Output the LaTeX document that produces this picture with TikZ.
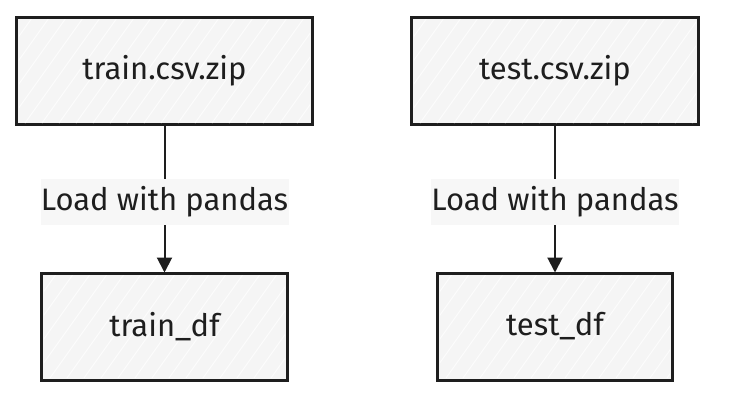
\documentclass[tikz,border=0pt]{standalone}
\usepackage{fontspec}
\setmainfont{Fira Sans}
\usetikzlibrary{arrows.meta}
\definecolor{ink}{HTML}{1E1E1E}
\definecolor{boxfill}{HTML}{F5F5F5}
\definecolor{hatch}{HTML}{FCFCFC}
\definecolor{labelbg}{HTML}{F7F7F7}
\tikzset{
  sketchbox/.style={draw=ink, line width=2pt, fill=boxfill, minimum width=#1,
    minimum height=106pt, inner sep=0pt},
  boxtext/.style={font=\fontsize{31}{34}\selectfont, text=ink},
  flow/.style={draw=ink, line width=2pt, -{Triangle[width=15pt,length=15pt]}},
  edgelabel/.style={fill=labelbg, inner sep=0pt, minimum width=248pt,
    minimum height=46pt, font=\fontsize{31}{34}\selectfont, text=ink}
}
% light diagonal hachure strokes clipped to a rectangle
\newcommand{\hachure}[4]{%
  \begin{scope}
    \clip (#1,#2) rectangle (#3,#4);
    \foreach \k in {-300,-283,...,320}
      \draw[hatch, line width=1pt] (#1+\k,#4) -- ++(300,-420);
  \end{scope}}
\begin{document}
\begin{tikzpicture}[x=1pt,y=-1pt]
  \useasboundingbox[fill=white] (0,0) rectangle (732,408);

  % source archives
  \node[sketchbox=295pt] (trainzip) at (164.5,71) {};
  \node[sketchbox=286pt] (testzip)  at (555,71) {};
  % loaded frames
  \node[sketchbox=245pt] (traindf) at (164.5,326.5) {};
  \node[sketchbox=234pt] (testdf)  at (555,326.5) {};

  \hachure{19}{19}{310}{123}
  \hachure{414}{19}{696}{123}
  \hachure{44}{275}{285}{378}
  \hachure{440}{275}{670}{378}

  \draw[ink, line width=2pt] (trainzip.north west) rectangle (trainzip.south east);
  \draw[ink, line width=2pt] (testzip.north west) rectangle (testzip.south east);
  \draw[ink, line width=2pt] (traindf.north west) rectangle (traindf.south east);
  \draw[ink, line width=2pt] (testdf.north west) rectangle (testdf.south east);

  \node[boxtext] at (trainzip) {train.csv.zip};
  \node[boxtext] at (testzip) {test.csv.zip};
  \node[boxtext] at (traindf) {train\_df};
  \node[boxtext] at (testdf) {test\_df};

  % loading steps
  \draw[flow] (trainzip.south) -- (traindf.north)
    node[pos=0.52, edgelabel] (trainlbl) {Load with pandas};
  \draw[flow] (testzip.south) -- (testdf.north)
    node[pos=0.52, edgelabel] (testlbl) {Load with pandas};
\end{tikzpicture}
\end{document}
